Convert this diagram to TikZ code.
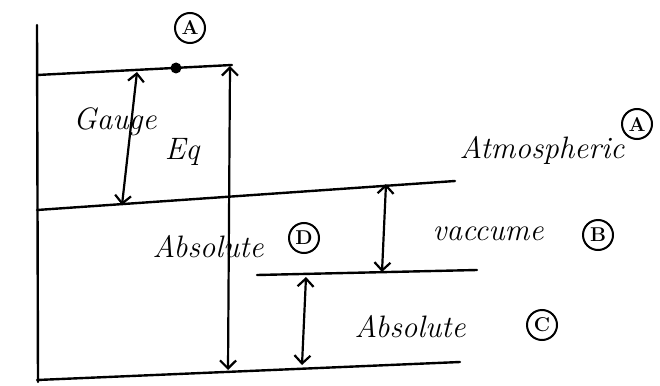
\documentclass[tikz,border=0pt]{standalone}
\usepackage{fontspec}
\usetikzlibrary{arrows.meta}
\begin{document}
\begin{tikzpicture}[x=1pt,y=-1pt,
  ln/.style={line width=2.4pt,black,line cap=round},
  dbl/.style={line width=2.2pt,{Straight Barb[length=8pt,width=16pt]}-{Straight Barb[length=8pt,width=16pt]}},
  lbl/.style={font=\fontsize{31}{33}\selectfont\itshape,inner sep=1pt},
  circ/.style={draw,circle,line width=2pt,minimum size=30pt,inner sep=0pt,font=\fontsize{20}{20}\selectfont\bfseries}]
\useasboundingbox (0,0) rectangle (660,385);
% axis
\coordinate (v0) at (37,25);
\coordinate (v1) at (38,382);
\draw[ln] (v0) -- (v1);
% level lines
\coordinate (t0) at (37,75);
\coordinate (t1) at (232,65);
\draw[ln] (t0) -- (t1);
\coordinate (a0) at (37,210);
\coordinate (a1) at (455,181);
\draw[ln] (a0) -- (a1);
\coordinate (c0) at (257,275);
\coordinate (c1) at (477,270);
\draw[ln] (c0) -- (c1);
\coordinate (b0) at (37,380);
\coordinate (b1) at (460,362);
\draw[ln] (b0) -- (b1);
% point A
\node[circle,fill,inner sep=0pt,minimum size=11pt] (pA) at (176,68) {};
\node[circ] (cA1) at (190,28) {A};
% arrows
\coordinate (gT) at (137,72);
\coordinate (gB) at (122,205);
\draw[dbl] (gB) -- (gT);
\coordinate (rT) at (230,66);
\coordinate (rB) at (228,370);
\draw[dbl] (rB) -- (rT);
\coordinate (vT) at (386,184);
\coordinate (vB) at (382,272);
\draw[dbl] (vB) -- (vT);
\coordinate (sT) at (306,277);
\coordinate (sB) at (302,365);
\draw[dbl] (sB) -- (sT);
% labels
\node[lbl] (gauge) at (115,122) {Gauge};
\node[lbl] (eq) at (182,152) {Eq};
\node[lbl] (atm) at (542,150) {Atmospheric};
\node[circ] (cA2) at (637,124) {A};
\node[lbl] (vac) at (488,234) {vaccume};
\node[circ] (cB) at (598,235) {B};
\node[lbl] (absD) at (208,247) {Absolute};
\node[circ] (cD) at (304,238) {D};
\node[lbl] (absC) at (410,327) {Absolute};
\node[circ] (cC) at (542,325) {C};
\end{tikzpicture}
\end{document}
